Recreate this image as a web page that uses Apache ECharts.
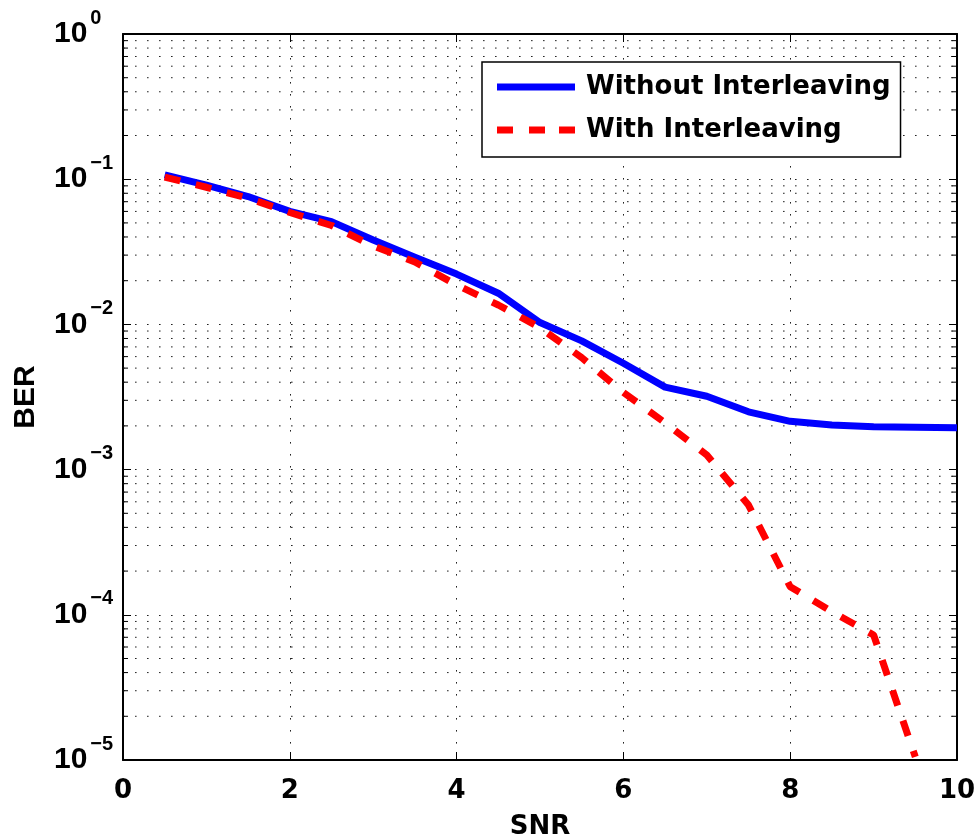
<!DOCTYPE html>
<html><head><meta charset="utf-8">
<script src="https://cdn.jsdelivr.net/npm/echarts@6/dist/echarts.min.js"></script>
<style>html,body{margin:0;padding:0;background:#fff}#c{width:979px;height:839px}</style>
</head><body><div id="c"></div>
<script>
// ---- data ----
const snr = [0.5, 1, 1.5, 2, 2.5, 3, 3.5, 4, 4.5, 5, 5.5, 6, 6.5, 7, 7.5, 8, 8.5, 9, 9.5, 10];
const berWithout = [0.107, 0.091, 0.076, 0.060, 0.051, 0.0381, 0.029, 0.0222, 0.0164, 0.0103, 0.0077, 0.0054, 0.0037, 0.0032, 0.0025, 0.00215, 0.00203, 0.00197, 0.00196, 0.00194];
const berWith = [0.1035, 0.088, 0.074, 0.059, 0.048, 0.0347, 0.0269, 0.0187, 0.0136, 0.0095, 0.0059, 0.0034, 0.0021, 0.00126, 0.00057, 0.000156, 0.000105, 0.0000726, 0.0000105, null];
const seriesNames = ['Without Interleaving', 'With Interleaving'];
const xTicks = [0, 2, 4, 6, 8, 10];
const yTickExponents = [0, -1, -2, -3, -4, -5];
const minorMultipliers = [2, 3, 4, 5, 6, 7, 8, 9];
const minorDecades = [1e-5, 1e-4, 1e-3, 1e-2, 1e-1];
const xLabel = 'SNR';
const yLabel = 'BER';

const minorTicks = [];
minorDecades.forEach(d => minorMultipliers.forEach(m => minorTicks.push([xTicks[0], m * d])));

const chart = echarts.init(document.getElementById('c'));
const dotted = { color: '#222', width: 1, type: [1.6, 10.4] };
const expo = v => {
  const e = Math.round(Math.log10(v));
  return '{b|10}{e|' + (e < 0 ? '\u2212' + (-e) : String(e)) + '}';
};
const yMin = Math.pow(10, yTickExponents[yTickExponents.length - 1]);
const yMax = Math.pow(10, yTickExponents[0]);

chart.setOption({
  animation: false,
  backgroundColor: '#fff',
  grid: { left: 123, right: 22, top: 34, bottom: 79, containLabel: false, outerBoundsMode: 'none' },
  legend: {
    orient: 'vertical',
    left: 482, top: 62,
    padding: [10, 10, 12, 15],
    itemGap: 13,
    itemWidth: 78, itemHeight: 7,
    backgroundColor: '#fff',
    borderColor: '#000', borderWidth: 1.5,
    textStyle: { fontFamily: 'DejaVu Sans', fontWeight: 'bold', fontSize: 26, color: '#000', lineHeight: 30, padding: [0, 0, 0, 6] },
    data: [
      { name: seriesNames[0], icon: 'rect' },
      { name: seriesNames[1], icon: 'path://M0,0H16V7H0Z M32,0H48V7H32Z M62,0H78V7H62Z' }
    ]
  },
  xAxis: [{
    type: 'value', min: xTicks[0], max: xTicks[xTicks.length - 1], interval: 2,
    name: xLabel, nameLocation: 'middle', nameGap: 54,
    nameTextStyle: { fontFamily: 'DejaVu Sans', fontWeight: 'bold', fontSize: 26, color: '#000' },
    axisLine: { show: true, onZero: false, lineStyle: { color: '#000', width: 2 } },
    axisTick: { inside: true, length: 8, lineStyle: { color: '#000', width: 1 } },
    axisLabel: { margin: 18, fontFamily: 'DejaVu Sans', fontWeight: 'bold', fontSize: 26, color: '#000', lineHeight: 26 },
    splitLine: { show: true, lineStyle: dotted }
  }, {
    type: 'value', position: 'top', min: xTicks[0], max: xTicks[xTicks.length - 1], interval: 2,
    axisLine: { show: true, onZero: false, lineStyle: { color: '#000', width: 2 } },
    axisTick: { inside: true, length: 8, lineStyle: { color: '#000', width: 1 } },
    axisLabel: { show: false }, splitLine: { show: false }
  }],
  yAxis: [{
    type: 'log', logBase: 10, min: yMin, max: yMax,
    name: yLabel, nameLocation: 'middle', nameGap: 82, nameRotate: 90,
    nameTextStyle: { fontFamily: 'Liberation Sans', fontWeight: 'bold', fontSize: 30, color: '#000' },
    axisLine: { show: true, onZero: false, lineStyle: { color: '#000', width: 2 } },
    axisTick: { inside: true, length: 8, lineStyle: { color: '#000', width: 1 } },
    axisLabel: {
      margin: 69, align: 'left', formatter: expo,
      rich: {
        b: { fontFamily: 'Liberation Sans', fontWeight: 'bold', fontSize: 30, lineHeight: 52, color: '#000' },
        e: { fontFamily: 'Liberation Sans', fontWeight: 'bold', fontSize: 20, lineHeight: 20, verticalAlign: 'top', color: '#000', padding: [0, 0, 0, 3] }
      }
    },
    splitLine: { show: true, lineStyle: dotted }
  }, {
    type: 'log', logBase: 10, min: yMin, max: yMax, position: 'right',
    axisLine: { show: true, onZero: false, lineStyle: { color: '#000', width: 2 } },
    axisTick: { inside: true, length: 8, lineStyle: { color: '#000', width: 1 } },
    axisLabel: { show: false }, splitLine: { show: false }
  }],
  series: [{
    type: 'custom', silent: true, xAxisIndex: 0, yAxisIndex: 0, z: 1,
    data: minorTicks,
    renderItem: (params, api) => {
      const v = api.value(1);
      const p0 = api.coord([xTicks[0], v]);
      const p1 = api.coord([xTicks[xTicks.length - 1], v]);
      return { type: 'group', children: [
        { type: 'line', shape: { x1: p0[0], y1: p0[1], x2: p1[0], y2: p1[1] }, style: { stroke: dotted.color, lineWidth: dotted.width, lineDash: dotted.type } },
        { type: 'line', shape: { x1: p0[0], y1: p0[1], x2: p0[0] + 5, y2: p0[1] }, style: { stroke: '#000', lineWidth: 1 } },
        { type: 'line', shape: { x1: p1[0] - 5, y1: p1[1], x2: p1[0], y2: p1[1] }, style: { stroke: '#000', lineWidth: 1 } }
      ] };
    }
  }, {
    name: seriesNames[0], type: 'line', xAxisIndex: 0, yAxisIndex: 0, z: 3,
    data: snr.map((x, i) => [x, berWithout[i]]),
    symbol: 'none', smooth: false,
    lineStyle: { color: '#0000ff', width: 7, cap: 'butt', join: 'round' },
    itemStyle: { color: '#0000ff' }
  }, {
    name: seriesNames[1], type: 'line', xAxisIndex: 0, yAxisIndex: 0, z: 4,
    data: snr.map((x, i) => [x, berWith[i]]).filter(p => p[1] != null),
    symbol: 'none', smooth: false,
    lineStyle: { color: '#ff0000', width: 7, type: [16, 16], cap: 'butt' },
    itemStyle: { color: '#ff0000' }
  }]
});
</script></body></html>
